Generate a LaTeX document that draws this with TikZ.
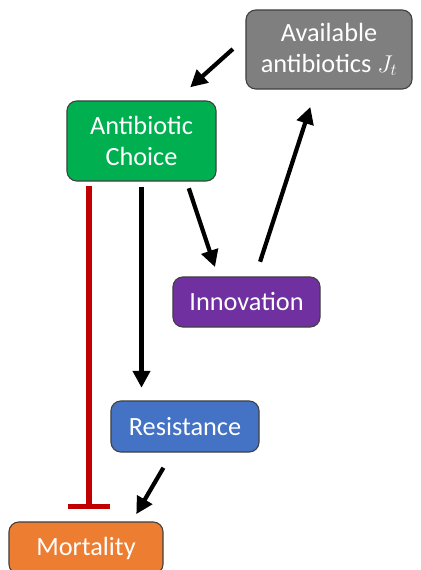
\documentclass[tikz,border=0pt]{standalone}
\usepackage{fontspec}
\setmainfont{Carlito}
\usetikzlibrary{arrows.meta}
\definecolor{boxgray}{HTML}{7F7F7F}
\definecolor{boxgreen}{HTML}{00B050}
\definecolor{boxpurple}{HTML}{7030A0}
\definecolor{boxblue}{HTML}{4472C4}
\definecolor{boxorange}{HTML}{ED7D31}
\definecolor{inhibred}{HTML}{C00000}
\begin{document}
\begin{tikzpicture}[x=0.025cm, y=-0.025cm, >={Triangle[length=12pt,width=12pt]}, font=\fontsize{18.7}{22}\selectfont, line join=round]
	\tikzset{box/.style={draw=black!75, line width=0.8pt, rounded corners=7pt, text=white, align=center, inner sep=0pt},
		link/.style={->, line width=3pt},
		inhib/.style={-{Bar[width=30pt,line width=3.6pt]}, line width=3.9pt, draw=inhibred}}
	\useasboundingbox (0,0) rectangle (420,570);
	\node[box, fill=boxgray, minimum width=4.15cm, minimum height=1.975cm] (avail) at (329,49.5) {Available\\antibiotics $J_t$};
	\node[box, fill=boxgreen, minimum width=3.725cm, minimum height=2cm] (choice) at (141.5,141) {Antibiotic\\Choice};
	\node[box, fill=boxpurple, minimum width=3.675cm, minimum height=1.25cm] (innov) at (246.5,302) {Innovation};
	\node[box, fill=boxblue, minimum width=3.7cm, minimum height=1.275cm] (resist) at (185,426.5) {Resistance};
	\node[box, fill=boxorange, minimum width=3.85cm, minimum height=1.3cm] (mort) at (86,548) {Mortality};
	% connectors
	\draw[link, shorten <=12pt, shorten >=14pt] (avail.172) -- (choice.50);
	\draw[link, shorten <=5pt, shorten >=7pt] (choice.-42) -- (innov.138);
	\draw[link, shorten <=11pt, shorten >=13pt] (innov.71) -- (avail.-108);
	\draw[link, shorten <=4pt, shorten >=9pt] (choice.south) -- (choice.south |- resist.north);
	\draw[inhib, shorten <=3.5pt, shorten >=8.5pt] ([xshift=2]choice.south -| mort.north) -- ([xshift=2]mort.north);
	\draw[link, shorten <=12.5pt, shorten >=6pt] (resist.244) -- (mort.30);
\end{tikzpicture}
\end{document}
